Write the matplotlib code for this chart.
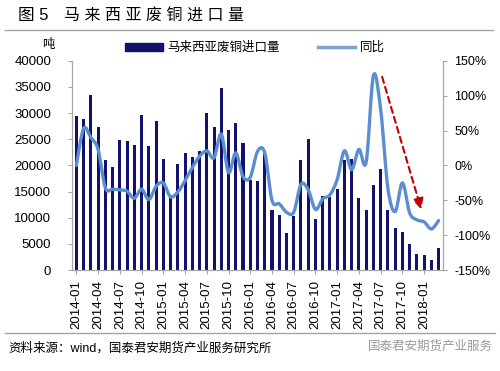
import numpy as np
import pandas as pd
import matplotlib
matplotlib.use("Agg")
import matplotlib.pyplot as plt
from matplotlib.path import Path
from matplotlib.patches import PathPatch
from matplotlib.lines import Line2D
from matplotlib.patches import Patch

plt.rcParams['font.family'] = ['Liberation Sans', 'Noto Sans CJK SC']
plt.rcParams['axes.unicode_minus'] = False

# 月份（2014-01 ~ 2018-03）
months = pd.date_range('2014-01-01', periods=51, freq='MS').strftime('%Y-%m').tolist()
# 马来西亚废铜进口量（吨）
imports = [29500, 28800, 33400, 27400, 21100, 19800, 24900, 24700, 24000, 29600,
           23700, 28500, 21200, 14400, 20200, 22300, 21700, 22800, 30100, 27400,
           34800, 26700, 28100, 24200, 17300, 17000, 22500, 11400, 10600, 7100,
           10400, 21000, 25100, 9800, 14200, 14000, 15500, 21000, 21200, 13800,
           11400, 16300, 19300, 11400, 8100, 7300, 4900, 3100, 2900, 1900, 4300]
# 同比（%）
yoy = [0, 53, 40, 23, -32, -34, -35, -37, -47, -34,
       -49, -30, -25, -45, -38, -22, -3, 13, 21, 11,
       45, -10, 18, -16, -17, 20, 18, -50, -55, -67,
       -67, -27, -35, -63, -48, -42, -20, 21, -6, 23,
       5, 129, 80, -33, -66, -25, -68, -78, -81, -91, -79]

bar_color = '#12126B'
line_color = '#5B8ED0'
grey = '#A6A6A6'


def smooth_path(xs, ys):
    # Excel风格的平滑线：Catmull-Rom 转 Bezier
    pts = np.column_stack([xs, ys]).astype(float)
    p = np.vstack([pts[0], pts, pts[-1]])
    verts = [pts[0]]
    codes = [Path.MOVETO]
    for i in range(1, len(p) - 2):
        c1 = p[i] + (p[i + 1] - p[i - 1]) / 6
        c2 = p[i + 1] - (p[i + 2] - p[i]) / 6
        verts += [c1, c2, p[i + 1]]
        codes += [Path.CURVE4] * 3
    return Path(verts, codes)


fig = plt.figure(figsize=(5.0, 3.71), dpi=100)
ax = fig.add_axes([0.144, 0.272, 0.742, 0.564])
ax2 = ax.twinx()

x = np.arange(len(months))
ax.bar(x, imports, width=0.42, color=bar_color, zorder=2)
ax.set_xlim(-0.6, len(months) - 0.4)
ax.set_ylim(0, 40000)
ax.set_yticks(range(0, 40001, 5000))
ax.set_xticks(x[::3])
ax.set_xticklabels(months[::3], rotation=90, fontsize=9.5)
ax.tick_params(axis='y', labelsize=9.5, length=3, pad=12, color=grey)
ax.tick_params(axis='x', length=3, pad=4, color=grey)

ax2.add_patch(PathPatch(smooth_path(x, yoy), fill=False, edgecolor=line_color,
                        lw=2.4, capstyle='round', joinstyle='round', zorder=3))
ax2.set_ylim(-150, 150)
ax2.set_yticks(range(-150, 151, 50))
ax2.set_yticklabels([f'{v}%' for v in range(-150, 151, 50)])
ax2.tick_params(axis='y', labelsize=9, length=3, pad=5, color=grey)

for a in (ax, ax2):
    a.spines['top'].set_visible(False)
    for s in ('left', 'right', 'bottom'):
        a.spines[s].set_color(grey)

# 红色虚线箭头
ax2.annotate('', xy=(47.6, -63), xytext=(42.2, 127),
             arrowprops=dict(arrowstyle='-|>', linestyle=(0, (3, 2)), color='#C00000',
                             lw=1.5, mutation_scale=16, shrinkA=0, shrinkB=0))

# 图例
handles = [Patch(color=bar_color), Line2D([0], [0], color='#7FA3CF', lw=2.5)]
fig.legend(handles, ['马来西亚废铜进口量', '同比'], loc='center', bbox_to_anchor=(0.51, 0.871),
           ncol=2, frameon=False, fontsize=9, handlelength=3, handleheight=0.6,
           columnspacing=3, handletextpad=0.4)

fig.text(0.097, 0.878, '吨', fontsize=9, ha='center', va='center')

# 标题与来源
fig.text(0.036, 0.958, '图 5', fontsize=12, va='center')
fig.text(0.128, 0.958, '马 来 西 亚 废 铜 进 口 量', fontsize=11.5, va='center')
fig.add_artist(Line2D([0.01, 0.985], [0.919, 0.919], color=grey, lw=1))
fig.add_artist(Line2D([0.01, 0.99], [0.102, 0.102], color=grey, lw=1))
fig.text(0.016, 0.062, '资料来源：wind，国泰君安期货产业服务研究所', fontsize=9, va='center')
fig.text(0.735, 0.066, '国泰君安期货产业服务', fontsize=9, va='center', color='#9A9A9A')

fig.savefig('out.png', dpi=100)
